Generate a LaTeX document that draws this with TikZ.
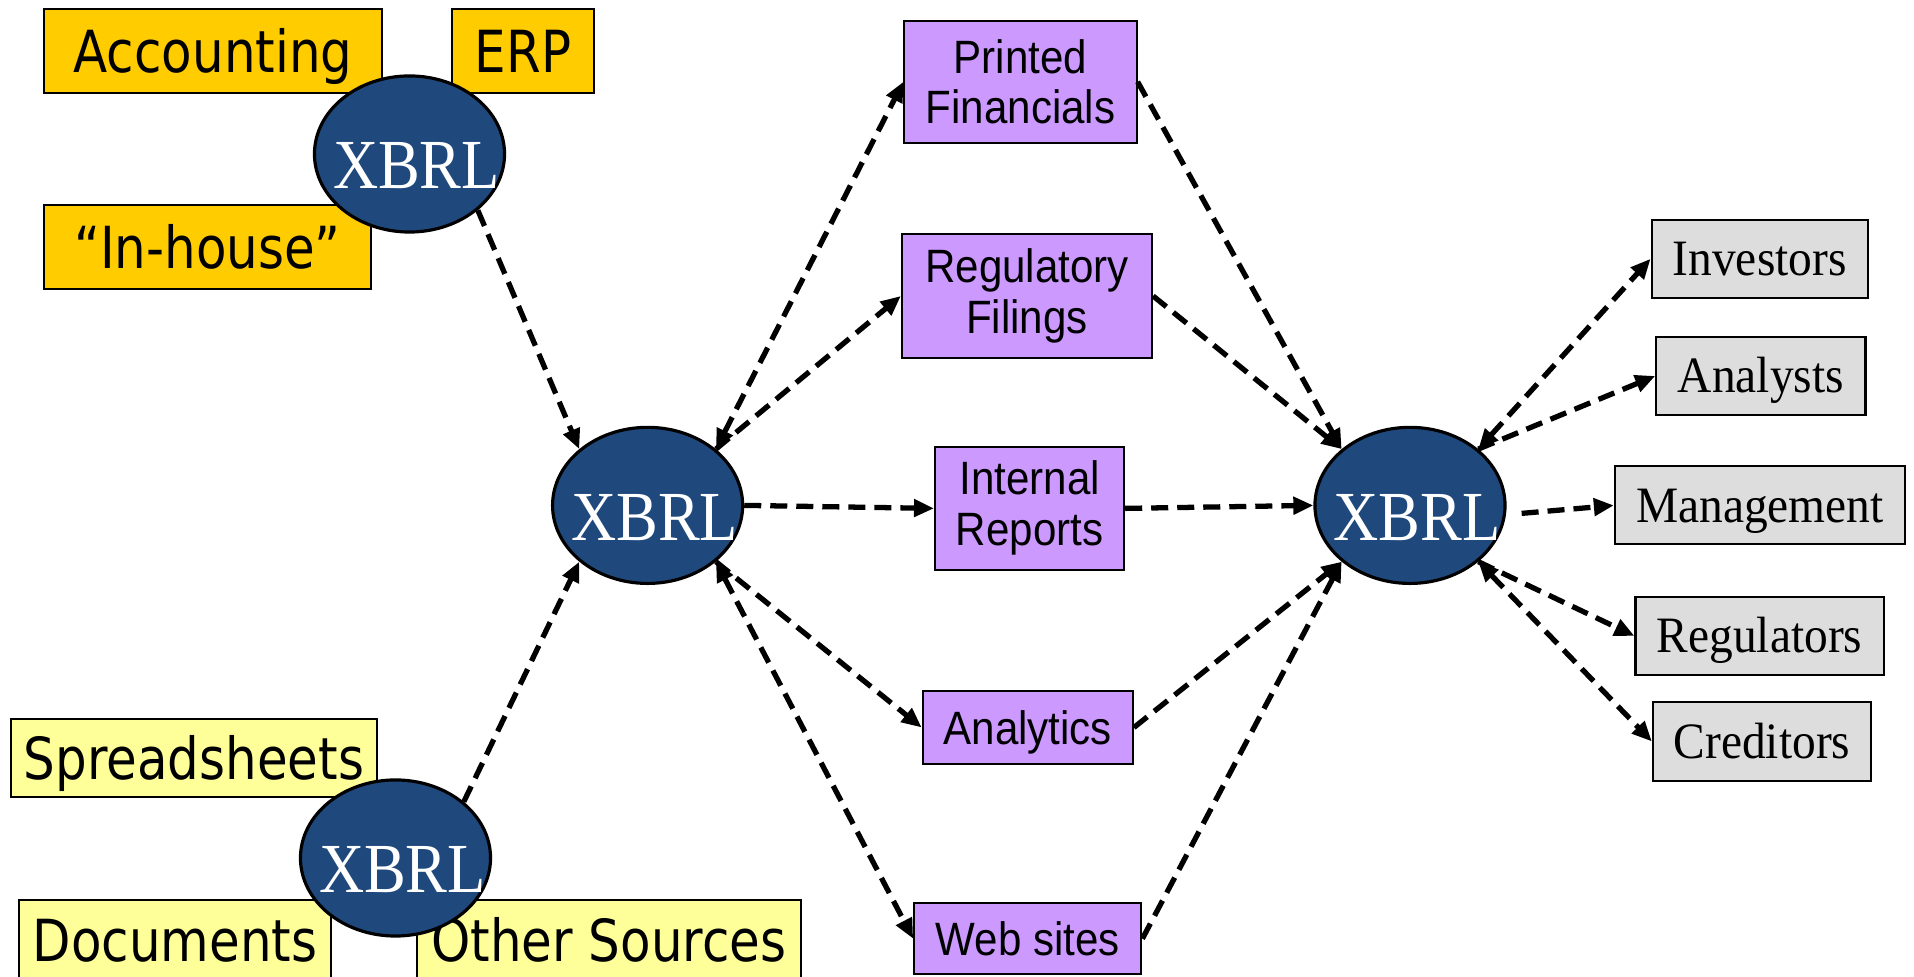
\documentclass[tikz,border=0pt]{standalone}
\usepackage{fontspec}
\usetikzlibrary{shapes.geometric,arrows.meta}
\newfontfamily\srcfont[FakeStretch=0.86]{DejaVu Sans}
\newfontfamily\midfont[FakeStretch=0.9]{Liberation Sans}
\newfontfamily\endfont[FakeStretch=0.93]{Liberation Serif}
\newfontfamily\xfont[FakeStretch=0.89]{Liberation Serif}
\definecolor{srcAcol}{RGB}{255,204,0}
\definecolor{srcBcol}{RGB}{255,255,153}
\definecolor{midcol}{RGB}{204,153,255}
\definecolor{grycol}{RGB}{221,221,221}
\definecolor{xblue}{RGB}{31,73,125}
\begin{document}
\begin{tikzpicture}[x=0.01cm,y=-0.01cm,
 bx/.style={draw=black, line width=0.6pt, inner sep=0pt, align=center},
 srcone/.style={bx, fill=srcAcol, font=\srcfont\fontsize{16.5pt}{19pt}\selectfont, text height=12pt, text depth=0pt},
 srctwo/.style={bx, fill=srcBcol, font=\srcfont\fontsize{16.5pt}{19pt}\selectfont, text height=12pt, text depth=0pt},
 midbox/.style={bx, fill=midcol, font=\midfont\fontsize{13.3pt}{14.5pt}\selectfont},
 midone/.style={midbox, text height=9.5pt, text depth=0pt},
 endbox/.style={bx, fill=grycol, font=\endfont\fontsize{14.5pt}{17pt}\selectfont, text height=9.6pt, text depth=0pt},
 xbrl/.style={ellipse, draw=black, line width=0.9pt, fill=xblue, minimum width=1.9cm, minimum height=1.56cm, inner sep=0pt},
 xtext/.style={text=white, inner sep=0pt, font=\xfont\fontsize{20pt}{24pt}\selectfont},
 tip/.tip={Triangle[length=0.2cm,width=0.17cm]},
 conn/.style={line width=1.5pt, dash pattern=on 0.17cm off 0.09cm, -tip},
 both/.style={line width=1.5pt, dash pattern=on 0.17cm off 0.09cm, tip-tip}
]
\path[use as bounding box] (0,0) rectangle (1914,977);
% source boxes
\node[srcone, minimum width=3.38cm, minimum height=0.84cm] (acc) at (213,51) {Accounting};
\node[srcone, minimum width=1.42cm, minimum height=0.84cm] (erp) at (523,51) {ERP};
\node[srcone, minimum width=3.27cm, minimum height=0.84cm] (inh) at (207.5,247) {“In-house”};
\node[srctwo, minimum width=3.66cm, minimum height=0.78cm] (spr) at (194,758) {Spreadsheets};
\node[srctwo, minimum width=3.11cm, minimum height=0.80cm] (doc) at (175,940) {Documents};
\node[srctwo, minimum width=3.84cm, minimum height=0.80cm] (oth) at (608.8,940) {Other Sources};
% middle boxes
\node[midbox, minimum width=2.32cm, minimum height=1.22cm] (pf) at (1020.5,81.8) {Printed\\Financials};
\node[midbox, minimum width=2.50cm, minimum height=1.24cm] (rf) at (1027,296) {Regulatory\\Filings};
\node[midbox, minimum width=1.89cm, minimum height=1.23cm] (ir) at (1029.6,508.4) {Internal\\Reports};
\node[midone, minimum width=2.10cm, minimum height=0.73cm] (ana) at (1027.8,727.5) {Analytics};
\node[midbox, minimum width=2.27cm, minimum height=0.71cm] (web) at (1027.8,938.7) {Web sites};
% end boxes
\node[endbox, minimum width=2.16cm, minimum height=0.78cm] (inv) at (1759.7,258.8) {Investors};
\node[endbox, minimum width=2.09cm, minimum height=0.78cm] (anl) at (1760.9,376) {Analysts};
\node[endbox, minimum width=2.90cm, minimum height=0.78cm] (mgt) at (1760,505.4) {Management};
\node[endbox, minimum width=2.48cm, minimum height=0.78cm] (reg) at (1759.6,636) {Regulators};
\node[endbox, minimum width=2.18cm, minimum height=0.79cm] (cre) at (1762,741.5) {Creditors};
% XBRL ellipses
\node[xbrl] (topX) at (409.5,154) {};
\node[xtext] (topXt) at ([xshift=0.07cm,yshift=-0.12cm]topX.center) {XBRL};
\node[xbrl] (botX) at (395.5,858) {};
\node[xtext] (botXt) at ([xshift=0.07cm,yshift=-0.12cm]botX.center) {XBRL};
\node[xbrl] (cenX) at (647.6,505.4) {};
\node[xtext] (cenXt) at ([xshift=0.07cm,yshift=-0.12cm]cenX.center) {XBRL};
\node[xbrl] (rigX) at (1410,505.4) {};
\node[xtext] (rigXt) at ([xshift=0.07cm,yshift=-0.12cm]rigX.center) {XBRL};
% connectors
\draw[conn] (topX.south east) -- (cenX.north west);
\draw[conn] (botX.north east) -- (cenX.south west);
\draw[both] (cenX.north east) -- (pf.west);
\draw[conn] (cenX.north east) -- (rf.west);
\draw[conn] (cenX.east) -- (ir.west);
\draw[conn] (cenX.south east) -- (ana.west);
\draw[both] (cenX.south east) -- (web.west);
\draw[conn] (pf.east) -- (rigX.north west);
\draw[conn] (rf.east) -- (rigX.north west);
\draw[conn] (ir.east) -- (rigX.west);
\draw[conn] (ana.east) -- (rigX.south west);
\draw[conn] (web.east) -- (rigX.south west);
\draw[both] (rigX.north east) -- (inv.west);
\draw[conn] (rigX.north east) -- (anl.west);
\draw[conn] ([shift={(15,8)}]rigX.east) -- (mgt.west);
\draw[conn] (rigX.south east) -- (reg.west);
\draw[both] (rigX.south east) -- (cre.west);
\end{tikzpicture}
\end{document}
